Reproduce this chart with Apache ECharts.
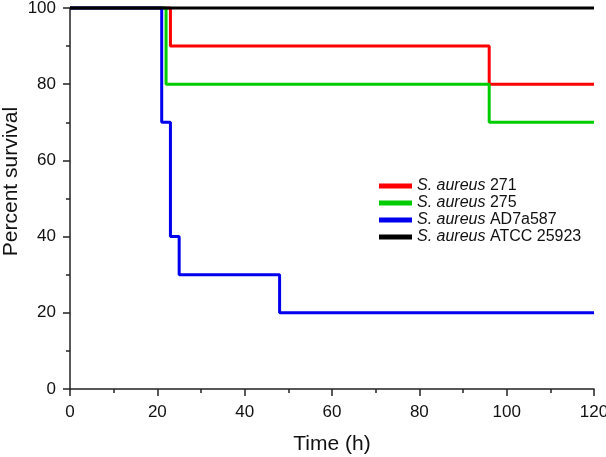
<!DOCTYPE html>
<html>
<head>
<meta charset="utf-8">
<script src="https://cdn.jsdelivr.net/npm/echarts@6/dist/echarts.min.js"></script>
<style>
  html, body { margin: 0; padding: 0; background: #fff; }
  #chart { width: 606px; height: 457px; }
</style>
</head>
<body>
<div id="chart"></div>
<script>
// strain labels (species written in italics in the legend)
const strains = ['271', '275', 'AD7a587', 'ATCC 25923'];
const colors = ['#ff0000', '#00cc00', '#0000ee', '#000000'];

// survival steps: [time (h), percent survival]
const red271 = [[0, 100], [23, 90], [96, 80], [120, 80]];
const green275 = [[0, 100], [22, 80], [96, 70], [120, 70]];
const blueAD7 = [[0, 100], [21, 70], [23, 40], [25, 30], [48, 20], [120, 20]];
const blackATCC = [[0, 100], [120, 100]];

const allData = [red271, green275, blueAD7, blackATCC];

const mychart = echarts.init(document.getElementById('chart'));

const axisFont = { fontFamily: 'Liberation Sans', fontSize: 17, color: '#111' };
const tickStyle = { color: '#222', width: 1.5 };

const option = {
    animation: false,
    grid: { left: 70, right: 12, top: 8, bottom: 68, containLabel: false, outerBoundsMode: 'none' },
    legend: {
        orient: 'vertical',
        left: 374,
        top: 173,
        itemWidth: 33,
        itemHeight: 5,
        itemGap: 1,
        icon: 'rect',
        data: strains.map((s) => 'S. aureus ' + s),
        formatter: (name) => '{i|S. aureus} ' + name.replace('S. aureus ', ''),
        textStyle: {
            fontFamily: 'Liberation Sans',
            fontSize: 16,
            color: '#111',
            rich: { i: { fontStyle: 'italic', fontFamily: 'Liberation Sans', fontSize: 16, color: '#111' } }
        }
    },
    xAxis: {
        type: 'value',
        min: 0,
        max: 120,
        interval: 20,
        name: 'Time (h)',
        nameLocation: 'center',
        nameGap: 45,
        nameMoveOverlap: false,
        nameTextStyle: { fontFamily: 'Liberation Sans', fontSize: 21, color: '#111' },
        axisLine: { show: true, lineStyle: tickStyle },
        axisTick: { show: true, length: 7, lineStyle: tickStyle },
        minorTick: { show: true, splitNumber: 2, length: 4, lineStyle: tickStyle },
        axisLabel: Object.assign({ margin: 15 }, axisFont),
        splitLine: { show: false }
    },
    yAxis: {
        type: 'value',
        min: 0,
        max: 100,
        interval: 20,
        name: 'Percent survival',
        nameLocation: 'center',
        nameGap: 48,
        nameMoveOverlap: false,
        nameTextStyle: { fontFamily: 'Liberation Sans', fontSize: 21, color: '#111', padding: [0, 0, 0, 34] },
        axisLine: { show: true, lineStyle: tickStyle },
        axisTick: { show: true, length: 7, lineStyle: tickStyle },
        minorTick: { show: true, splitNumber: 2, length: 4, lineStyle: tickStyle },
        axisLabel: Object.assign({ margin: 14 }, axisFont),
        splitLine: { show: false }
    },
    series: strains.map((s, i) => ({
        name: 'S. aureus ' + s,
        type: 'line',
        step: 'end',
        data: allData[i],
        showSymbol: false,
        clip: false,
        color: colors[i],
        lineStyle: { width: 3, color: colors[i] },
        z: 2 + i
    }))
};

mychart.setOption(option);
</script>
</body>
</html>
